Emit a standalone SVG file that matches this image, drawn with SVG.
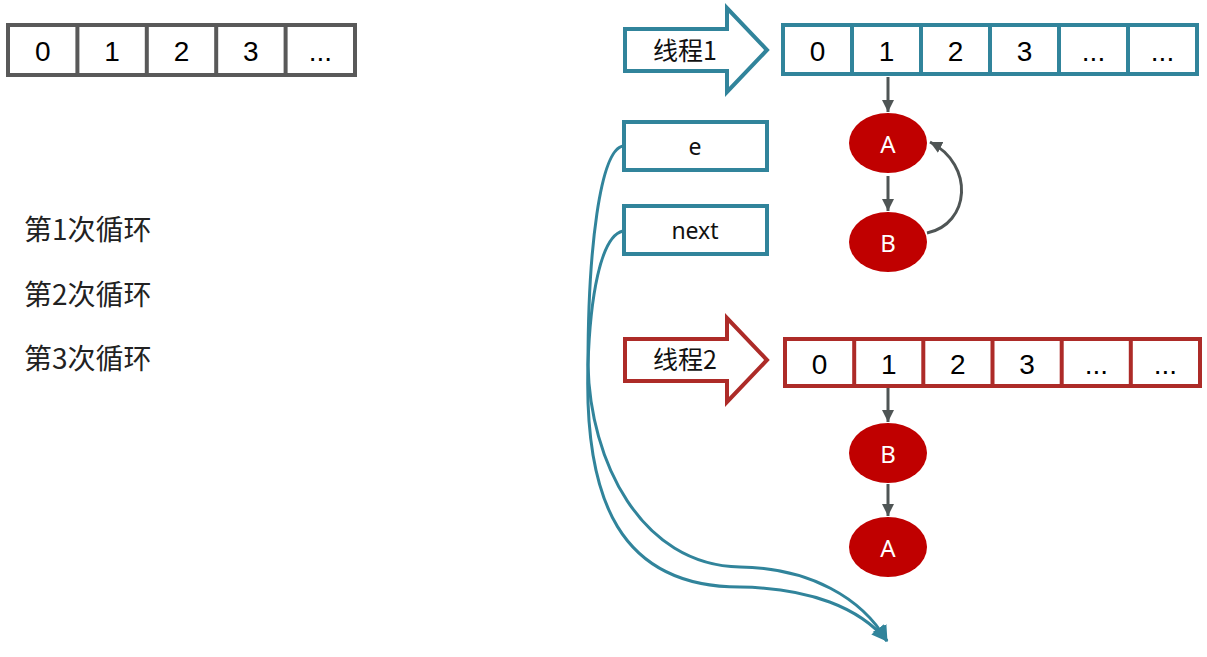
<svg xmlns="http://www.w3.org/2000/svg" width="1207" height="657" viewBox="0 0 1207 657">
<style>
.gray{fill:#fff;stroke:#595959;stroke-width:4}
.teal{fill:#fff;stroke:#31849B;stroke-width:4}
.red{fill:#fff;stroke:#AD2B28;stroke-width:4}
.cell{font-family:"Liberation Sans","Noto Sans",sans-serif;font-size:28px;fill:#000;text-anchor:middle;dominant-baseline:central}
.lbl{font-family:"Noto Sans","Noto Sans CJK SC",sans-serif;font-size:23px;fill:#111;text-anchor:middle;dominant-baseline:central}
.thr{font-family:"Noto Sans CJK SC",sans-serif;font-size:25px;fill:#111;text-anchor:middle;dominant-baseline:central}
.cjk{font-family:"Noto Sans CJK SC",sans-serif;font-size:28px;fill:#222;dominant-baseline:central}
.node{fill:#C00000}
.ntext{font-family:"Noto Sans",sans-serif;font-size:24px;fill:#fff;text-anchor:middle;dominant-baseline:central}
.garrow{fill:none;stroke:#4F5555;stroke-width:3}
.tarrow{fill:none;stroke:#31849B;stroke-width:3}
</style>
<defs>
<marker id="mg" markerUnits="userSpaceOnUse" markerWidth="14" markerHeight="14" refX="12" refY="6" orient="auto">
<path d="M0,0 L12,6 L0,12 Z" fill="#4F5555"/>
</marker>
<marker id="mt" markerUnits="userSpaceOnUse" markerWidth="18" markerHeight="18" refX="15" refY="8" orient="auto">
<path d="M0,0 L16,8 L0,16 Z" fill="#31849B"/>
</marker>
</defs>

<g id="array0">
<rect class="gray" x="8" y="25" width="347" height="50"/>
<path class="gray" d="M77.4,25V75M146.8,25V75M216.2,25V75M285.6,25V75"/>
<text class="cell" x="42.7" y="51">0</text>
<text class="cell" x="112.1" y="51">1</text>
<text class="cell" x="181.5" y="51">2</text>
<text class="cell" x="250.9" y="51">3</text>
<text class="cell" x="320.3" y="51">...</text>
</g>

<g id="loops">
<text class="cjk" x="24" y="228">第1次循环</text>
<text class="cjk" x="24" y="293">第2次循环</text>
<text class="cjk" x="24" y="357">第3次循环</text>
</g>

<g id="thread1">
<path class="teal" stroke-width="3" d="M625,29 L727,29 L727,8 L767,50 L727,92 L727,71 L625,71 Z"/>
<text class="thr" x="685" y="49">线程1</text>
</g>

<g id="array1">
<rect class="teal" x="783" y="25" width="414" height="49"/>
<path class="teal" d="M852,25V74M921,25V74M990,25V74M1059,25V74M1128,25V74"/>
<text class="cell" x="817.5" y="51">0</text>
<text class="cell" x="886.5" y="51">1</text>
<text class="cell" x="955.5" y="51">2</text>
<text class="cell" x="1024.5" y="51">3</text>
<text class="cell" x="1093.5" y="51">...</text>
<text class="cell" x="1162.5" y="51">...</text>
</g>

<g id="e">
<rect class="teal" stroke-width="3" x="624" y="122" width="143" height="48"/>
<text class="lbl" x="695" y="146">e</text>
</g>
<g id="next">
<rect class="teal" stroke-width="3" x="624" y="206" width="143" height="48"/>
<text class="lbl" x="695" y="230">next</text>
</g>

<g id="nodeA1">
<ellipse class="node" cx="888" cy="143" rx="39" ry="30"/>
<text class="ntext" x="888" y="143">A</text>
</g>
<g id="nodeB1">
<ellipse class="node" cx="888" cy="242" rx="39" ry="30"/>
<text class="ntext" x="888" y="242">B</text>
</g>

<g id="thread2">
<path class="red" stroke-width="3" d="M625,339 L727,339 L727,318 L767,360 L727,402 L727,381 L625,381 Z"/>
<text class="thr" x="685" y="358">线程2</text>
</g>

<g id="array2">
<rect class="red" x="785" y="339" width="415" height="47"/>
<path class="red" d="M854.2,339V386M923.3,339V386M992.5,339V386M1061.7,339V386M1130.8,339V386"/>
<text class="cell" x="819.6" y="364">0</text>
<text class="cell" x="888.7" y="364">1</text>
<text class="cell" x="957.9" y="364">2</text>
<text class="cell" x="1027.1" y="364">3</text>
<text class="cell" x="1096.3" y="364">...</text>
<text class="cell" x="1165.4" y="364">...</text>
</g>

<g id="nodeB2">
<ellipse class="node" cx="888" cy="453" rx="39" ry="30"/>
<text class="ntext" x="888" y="453">B</text>
</g>
<g id="nodeA2">
<ellipse class="node" cx="888" cy="547" rx="39" ry="30"/>
<text class="ntext" x="888" y="547">A</text>
</g>

<g id="connectors">
<path class="garrow" marker-end="url(#mg)" d="M888,77 L888,112"/>
<path class="garrow" marker-end="url(#mg)" d="M888,176 L888,211"/>
<path class="garrow" marker-end="url(#mg)" d="M927,233 C970,224 975,165 930,142"/>
<path class="garrow" marker-end="url(#mg)" d="M888,388 L888,422"/>
<path class="garrow" marker-end="url(#mg)" d="M888,484 L888,516"/>
<path class="tarrow" marker-end="url(#mt)" d="M623,146 C600,150 588,250 588,365 C590,460 640,565 740,567 C810,568 862,598 887,641"/>
<path class="tarrow" marker-end="url(#mt)" d="M623,231 C600,236 590,300 588,365 C584,500 620,587 740,587 C810,588 860,608 887,641"/>
</g>
</svg>
